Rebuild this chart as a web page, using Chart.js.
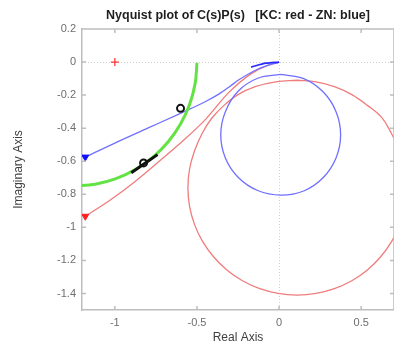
<!DOCTYPE html>
<html>
<head>
<meta charset="utf-8">
<script src="https://cdn.jsdelivr.net/npm/chart.js@4.4.0/dist/chart.umd.min.js"></script>
<style>
html, body { margin: 0; padding: 0; background: #fff; overflow: hidden; }
#grafico { display: block; }
</style>
</head>
<body>
<canvas id="grafico" width="400" height="347"></canvas>
<script>
// etiquetas de los ejes
var xTicks = [-1, -0.5, 0, 0.5];
var yTicks = [0.2, 0, -0.2, -0.4, -0.6, -0.8, -1, -1.2, -1.4];

// KC (rojo): rama que llega al origen y lazo grande
var kcX = [-1.18, -1.03, -0.89, -0.73, -0.578, -0.446, -0.307, -0.169, -0.066, 0];
var kcY = [-0.933, -0.836, -0.733, -0.60, -0.47, -0.345, -0.185, -0.07, -0.018, 0];
var kcLoopX = [0.11, 0.226, 0.337, 0.443, 0.538, 0.625, 0.686, 0.735, 0.765, 0.775, 0.765, 0.735, 0.686, 0.619, 0.538, 0.443, 0.337, 0.226, 0.11,
               -0.006, -0.117, -0.223, -0.318, -0.399, -0.466, -0.515, -0.545, -0.555, -0.545, -0.515, -0.47, -0.41, -0.335, -0.25, -0.145, -0.02, 0.11];
var kcLoopY = [-0.11, -0.12, -0.149, -0.197, -0.262, -0.335, -0.435, -0.538, -0.647, -0.76, -0.873, -0.982, -1.085, -1.178, -1.258, -1.323, -1.371, -1.40, -1.41,
               -1.40, -1.371, -1.323, -1.258, -1.178, -1.085, -0.982, -0.873, -0.76, -0.647, -0.538, -0.435, -0.34, -0.262, -0.197, -0.149, -0.12, -0.11];

// ZN (azul)
var znX = [-1.18, -1.0, -0.8, -0.6, -0.45, -0.367, -0.3, -0.247, -0.127, 0];
var znY = [-0.575, -0.49, -0.40, -0.31, -0.24, -0.194, -0.148, -0.109, -0.042, 0];
var znLoopX = [0.01, 0.15, 0.268, 0.347, 0.375, 0.347, 0.268, 0.15, 0.01, -0.13, -0.248, -0.327, -0.355, -0.327, -0.248, -0.13, 0.01];
var znLoopY = [-0.075, -0.10, -0.18, -0.30, -0.44, -0.58, -0.70, -0.78, -0.805, -0.777, -0.698, -0.58, -0.44, -0.30, -0.175, -0.098, -0.075];
var znTailX = [-0.17, -0.08, 0];
var znTailY = [-0.03, -0.007, 0];

// arco verde
var arcX = [-0.5, -0.511, -0.545, -0.60, -0.675, -0.768, -0.875, -0.993, -1.12, -1.25];
var arcY = [-0.005, -0.13, -0.257, -0.375, -0.482, -0.575, -0.65, -0.705, -0.739, -0.75];

// segmento negro y marcadores
var segX = [-0.90, -0.74];
var segY = [-0.67, -0.56];
var circX = [-0.60, -0.825];
var circY = [-0.28, -0.61];
var critX = [-1];
var critY = [0];

function puntos(xs, ys) {
    return xs.map(function (x, i) { return { x: x, y: ys[i] }; });
}

function linea(xs, ys, color, ancho, tension) {
    return {
        data: puntos(xs, ys),
        showLine: true,
        borderColor: color,
        borderWidth: ancho,
        pointRadius: 0,
        tension: tension,
        fill: false
    };
}

function rama(xs, ys, color, ancho) {
    var d = linea(xs, ys, color, ancho, 0.4);
    d.cubicInterpolationMode = 'monotone'; // curvas monotonas en x
    return d;
}

function etiqueta(v) { return String(v); }

var rojo = '#f07c7c';
var azul = '#7070ff';
var fuente = "'Liberation Sans', Arial, sans-serif";

// marco, marcas interiores y lineas del cero
var marco = {
    id: 'marco',
    beforeDatasetsDraw: function (chart) {
        var ctx = chart.ctx, a = chart.chartArea;
        var x0 = Math.round(chart.scales.x.getPixelForValue(0)) + 0.5;
        var y0 = Math.round(chart.scales.y.getPixelForValue(0)) + 0.5;
        ctx.save();
        ctx.strokeStyle = '#cfcfcf';
        ctx.lineWidth = 1;
        ctx.setLineDash([1, 2]);
        ctx.beginPath();
        ctx.moveTo(x0, a.top); ctx.lineTo(x0, a.bottom);
        ctx.moveTo(a.left, y0); ctx.lineTo(a.right, y0);
        ctx.stroke();
        ctx.restore();
    },
    afterDraw: function (chart) {
        var ctx = chart.ctx, a = chart.chartArea;
        var sx = chart.scales.x, sy = chart.scales.y;
        ctx.save();
        ctx.strokeStyle = '#bdbdbd';
        ctx.lineWidth = 1.5;
        ctx.beginPath();
        ctx.moveTo(a.left, a.top); ctx.lineTo(a.right, a.top); ctx.lineTo(a.right, a.bottom);
        xTicks.forEach(function (v) {
            var p = sx.getPixelForValue(v);
            ctx.moveTo(p, a.bottom); ctx.lineTo(p, a.bottom - 4);
            ctx.moveTo(p, a.top); ctx.lineTo(p, a.top + 4);
        });
        yTicks.forEach(function (v) {
            var p = sy.getPixelForValue(v);
            ctx.moveTo(a.left, p); ctx.lineTo(a.left + 4, p);
            ctx.moveTo(a.right, p); ctx.lineTo(a.right - 4, p);
        });
        ctx.stroke();
        ctx.restore();
    }
};

var ctx1 = document.getElementById('grafico').getContext('2d');
window.nyquist = new Chart(ctx1, {
    type: 'scatter',
    data: {
        datasets: [
            {
                data: puntos(critX, critY),
                pointStyle: 'cross', pointRadius: 4, borderColor: '#ff3030', borderWidth: 1.2
            },
            {
                data: puntos([znX[0]], [znY[0]]),
                pointStyle: 'triangle', rotation: 180, pointRadius: 4,
                backgroundColor: '#1010ff', borderColor: '#1010ff'
            },
            {
                data: puntos([kcX[0]], [kcY[0]]),
                pointStyle: 'triangle', rotation: 180, pointRadius: 4,
                backgroundColor: '#ff2020', borderColor: '#ff2020'
            },
            {
                data: puntos(circX, circY),
                pointStyle: 'circle', pointRadius: 3.5, borderWidth: 2,
                borderColor: '#111', backgroundColor: 'rgba(0,0,0,0)'
            },
            linea(segX, segY, '#111', 3, 0),
            linea(arcX, arcY, '#62e243', 3, 0.4),
            linea(znTailX, znTailY, '#2a2aff', 1.8, 0.3),
            rama(znX, znY, azul, 1.3),
            linea(znLoopX, znLoopY, azul, 1.3, 0.4),
            rama(kcX, kcY, rojo, 1.3),
            linea(kcLoopX, kcLoopY, rojo, 1.3, 0.4)
        ]
    },
    options: {
        responsive: false,
        animation: false,
        elements: { line: { capBezierPoints: false } },
        layout: { padding: { top: 0, left: 0, right: 3, bottom: 0 } },
        plugins: {
            legend: { display: false },
            tooltip: { enabled: false },
            title: {
                display: true,
                fullSize: false,
                text: 'Nyquist plot of C(s)P(s)   [KC: red - ZN: blue]',
                color: '#1e1e1e',
                font: { family: fuente, size: 12.5, weight: 'bold' },
                padding: { top: 8, bottom: 6 }
            }
        },
        scales: {
            x: {
                type: 'linear',
                min: -1.2, max: 0.7,
                afterBuildTicks: function (s) { s.ticks = xTicks.map(function (v) { return { value: v }; }); },
                afterFit: function (s) { s.height = 37; },
                grid: { display: false, drawTicks: false },
                border: { display: true, color: '#bdbdbd', width: 1.5 },
                ticks: { color: '#6e6e6e', padding: 6, font: { family: fuente, size: 11 }, maxRotation: 0, callback: etiqueta },
                title: {
                    display: true, text: 'Real Axis', color: '#404040',
                    font: { family: fuente, size: 12 }, padding: { top: 0, bottom: 2 }
                }
            },
            y: {
                type: 'linear',
                min: -1.5, max: 0.2,
                afterBuildTicks: function (s) { s.ticks = yTicks.map(function (v) { return { value: v }; }); },
                afterFit: function (s) { s.width = 82; },
                grid: { display: false, drawTicks: false },
                border: { display: true, color: '#bdbdbd', width: 1.5 },
                ticks: { color: '#6e6e6e', padding: 6, font: { family: fuente, size: 11 }, callback: etiqueta },
                title: {
                    display: true, text: 'Imaginary Axis', color: '#404040',
                    font: { family: fuente, size: 12 }, padding: { top: 11, bottom: 0 }
                }
            }
        }
    },
    plugins: [marco]
});
</script>
</body>
</html>
